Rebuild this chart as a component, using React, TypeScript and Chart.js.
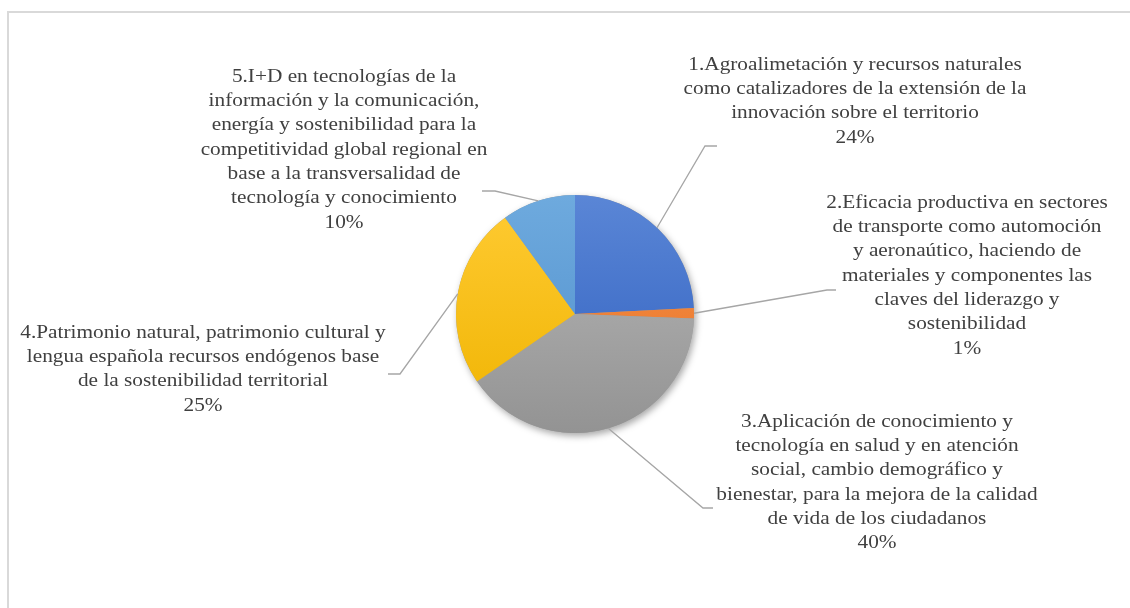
import React, { useEffect, useRef } from "react";
import { Chart, registerables } from "chart.js";

Chart.register(...registerables);

const categories: string[] = [
  "1.Agroalimetación y recursos naturales\ncomo catalizadores de la extensión de la\ninnovación sobre el territorio",
  "2.Eficacia productiva en sectores\nde transporte como automoción\ny aeronaútico, haciendo de\nmateriales y componentes las\nclaves del liderazgo y\nsostenibilidad",
  "3.Aplicación de conocimiento y\ntecnología en salud y en atención\nsocial, cambio demográfico y\nbienestar, para la mejora de la calidad\nde vida de los ciudadanos",
  "4.Patrimonio natural, patrimonio cultural y\nlengua española recursos endógenos base\nde la sostenibilidad territorial",
  "5.I+D en tecnologías de la\ninformación y la comunicación,\nenergía y sostenibilidad para la\ncompetitividad global regional en\nbase a la transversalidad de\ntecnología y conocimiento",
];

const values: number[] = [24.2, 1.4, 39.8, 24.6, 10.0];

// slice colours: [top (light), bottom (dark)]
const sliceColors: [string, string][] = [
  ["#5a86d6", "#2f5fbf"],
  ["#f59150", "#e8721f"],
  ["#b8b8b8", "#939393"],
  ["#ffcb33", "#efb300"],
  ["#6eaade", "#4f8ecb"],
];

// label layout (pixel positions of the text block and leader elbow)
const labelLayout = [
  { x: 855, y: 65, elbow: [705, 146], end: [717, 146] },
  { x: 967, y: 203, elbow: [827, 290], end: [836, 290] },
  { x: 877, y: 422, elbow: [703, 508], end: [713, 508] },
  { x: 203, y: 333, elbow: [400, 374], end: [388, 374] },
  { x: 344, y: 77, elbow: [495, 191], end: [482, 191] },
];

const FONT = '18.6px "Liberation Serif", "Times New Roman", serif';
const TEXT_STRETCH = 1.145;
const LINE_H = 24.3;

const labelPlugin = {
  id: "outsideLabels",
  beforeDatasetsDraw(chart: any) {
    const meta = chart.getDatasetMeta(0);
    const a = meta.data[0];
    if (!a) return;
    const ctx = chart.ctx;
    ctx.save();
    ctx.shadowColor = "rgba(0,0,0,0.35)";
    ctx.shadowBlur = 7;
    ctx.shadowOffsetX = 2;
    ctx.shadowOffsetY = 3;
    ctx.fillStyle = "#999";
    ctx.beginPath();
    ctx.arc(a.x, a.y, a.outerRadius, 0, Math.PI * 2);
    ctx.fill();
    ctx.restore();
  },
  afterDraw(chart: any) {
    const ctx = chart.ctx;
    const meta = chart.getDatasetMeta(0);
    const total = values.reduce((s, v) => s + v, 0);
    meta.data.forEach((arc: any, i: number) => {
      const lay = labelLayout[i];
      const mid = (arc.startAngle + arc.endAngle) / 2;
      const sx = arc.x + Math.cos(mid) * arc.outerRadius;
      const sy = arc.y + Math.sin(mid) * arc.outerRadius;
      ctx.save();
      ctx.strokeStyle = "#a6a6a6";
      ctx.lineWidth = 1.3;
      ctx.beginPath();
      ctx.moveTo(sx, sy);
      ctx.lineTo(lay.elbow[0], lay.elbow[1]);
      ctx.lineTo(lay.end[0], lay.end[1]);
      ctx.stroke();
      ctx.fillStyle = "#404040";
      ctx.font = FONT;
      ctx.textAlign = "center";
      ctx.textBaseline = "middle";
      ctx.translate(lay.x, lay.y);
      ctx.scale(TEXT_STRETCH, 1);
      const lines = categories[i].split("\n");
      lines.push(Math.round((values[i] / total) * 100) + "%");
      lines.forEach((t, k) => ctx.fillText(t, 0, k * LINE_H));
      ctx.restore();
    });
  },
};

export default function App() {
  const ref = useRef<HTMLCanvasElement>(null);
  useEffect(() => {
    if (!ref.current) return;
    const chart = new Chart(ref.current, {
      type: "pie",
      data: {
        labels: categories.map((c) => c.replace(/\n/g, " ")),
        datasets: [
          {
            data: values,
            borderWidth: 0,
            backgroundColor: (c: any) => {
              const area = c.chart.chartArea;
              if (!area) return sliceColors[c.dataIndex][0];
              const g = c.chart.ctx.createLinearGradient(0, area.top, 0, area.bottom);
              g.addColorStop(0, sliceColors[c.dataIndex][0]);
              g.addColorStop(1, sliceColors[c.dataIndex][1]);
              return g;
            },
          },
        ],
      },
      options: {
        animation: false,
        responsive: false,
        layout: { padding: { left: 456, right: 436, top: 195, bottom: 175 } },
        plugins: { legend: { display: false }, tooltip: { enabled: false } },
      },
      plugins: [labelPlugin],
    });
    return () => chart.destroy();
  }, []);
  return (
    <div
      style={{
        position: "fixed",
        left: 0,
        top: 0,
        width: 1130,
        height: 608,
        overflow: "hidden",
        background: "#fff",
      }}
    >
      <div
        style={{
          position: "absolute",
          left: 7,
          top: 11,
          width: 1200,
          height: 700,
          border: "2px solid #d9d9d9",
        }}
      />
      <canvas
        ref={ref}
        width={1130}
        height={608}
        style={{ position: "absolute", left: 0, top: 0 }}
      />
    </div>
  );
}
